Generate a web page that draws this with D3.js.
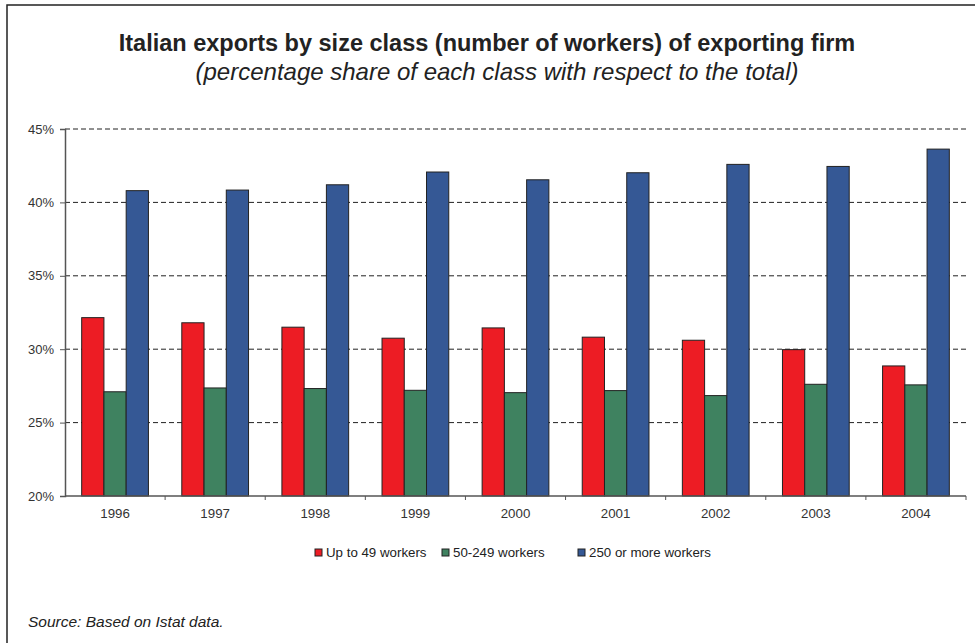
<!DOCTYPE html>
<html>
<head>
<meta charset="utf-8">
<script src="https://cdn.jsdelivr.net/npm/d3@7"></script>
<style>
  body { margin: 0; background: #fff; }
  text { font-family: "Liberation Sans", Arial, sans-serif; }
</style>
</head>
<body>
<div id="chart"></div>
<script>
"use strict";

var years = ["1996", "1997", "1998", "1999", "2000", "2001", "2002", "2003", "2004"];
var seriesNames = ["Up to 49 workers", "50-249 workers", "250 or more workers"];
var small = [32.15, 31.8, 31.5, 30.75, 31.45, 30.82, 30.61, 29.97, 28.86];
var medium = [27.1, 27.36, 27.32, 27.2, 27.04, 27.18, 26.84, 27.61, 27.57];
var large = [40.8, 40.84, 41.2, 42.07, 41.54, 42.02, 42.59, 42.45, 43.63];
var yTicks = [20, 25, 30, 35, 40, 45];
var colors = ["#ed1c24", "#3f8260", "#355895"];

var width = 975, height = 643;
var margin = { left: 65, right: 9, top: 129, bottom: 147 };

var svg = d3.select("#chart").append("svg")
    .attr("width", width)
    .attr("height", height);

// outer frame (runs off the right and bottom edges)
svg.append("rect")
    .attr("x", 7).attr("y", 5)
    .attr("width", 990).attr("height", 700)
    .attr("fill", "none")
    .attr("stroke", "#222")
    .attr("stroke-width", 1.5);

svg.append("text")
    .attr("x", 487).attr("y", 51)
    .attr("text-anchor", "middle")
    .attr("font-size", 23.5)
    .attr("font-weight", "bold")
    .attr("fill", "#222")
    .text("Italian exports by size class (number of workers) of exporting firm");

svg.append("text")
    .attr("x", 497).attr("y", 80)
    .attr("text-anchor", "middle")
    .attr("font-size", 24)
    .attr("font-style", "italic")
    .attr("fill", "#222")
    .text("(percentage share of each class with respect to the total)");

var x0 = d3.scaleBand()
    .domain(years)
    .range([margin.left, width - margin.right]);

var x1 = d3.scaleBand()
    .domain(d3.range(3))
    .range([0, x0.bandwidth()])
    .paddingInner(0)
    .paddingOuter(0.75);

var y = d3.scaleLinear()
    .domain([20, 45])
    .range([height - margin.bottom, margin.top]);

// dashed gridlines
svg.append("g")
    .selectAll("line")
    .data(yTicks.slice(1))
    .enter().append("line")
    .attr("x1", margin.left).attr("x2", width - margin.right)
    .attr("y1", function (d) { return y(d); })
    .attr("y2", function (d) { return y(d); })
    .attr("stroke", "#222")
    .attr("stroke-width", 1)
    .attr("stroke-dasharray", "5,3");

var rows = years.map(function (yr, i) {
    return { year: yr, values: [small[i], medium[i], large[i]] };
});

var groups = svg.append("g")
    .selectAll("g")
    .data(rows)
    .enter().append("g")
    .attr("transform", function (d) { return "translate(" + x0(d.year) + ",0)"; });

groups.selectAll("rect")
    .data(function (d) { return d.values; })
    .enter().append("rect")
    .attr("x", function (d, i) { return x1(i); })
    .attr("width", x1.bandwidth())
    .attr("y", function (d) { return y(d); })
    .attr("height", function (d) { return y(20) - y(d); })
    .attr("fill", function (d, i) { return colors[i]; })
    .attr("stroke", "#222")
    .attr("stroke-width", 1);

// y axis
var yAxis = svg.append("g")
    .attr("transform", "translate(" + margin.left + ",0)")
    .call(d3.axisLeft(y)
        .tickValues(yTicks)
        .tickSize(5)
        .tickPadding(6)
        .tickFormat(function (d) { return d + "%"; }));
yAxis.select(".domain").attr("stroke", "#555").attr("stroke-width", 1.5);
yAxis.selectAll(".tick line").attr("stroke", "#555");
yAxis.selectAll("text")
    .attr("font-size", 13)
    .attr("fill", "#333")
    .style("font-family", "'Liberation Sans', Arial, sans-serif");

// x axis with ticks at category boundaries
var xAxis = svg.append("g")
    .attr("transform", "translate(0," + y(20) + ")");
xAxis.append("line")
    .attr("x1", margin.left).attr("x2", width - margin.right)
    .attr("stroke", "#555").attr("stroke-width", 1.5);
xAxis.selectAll(".sep")
    .data(years)
    .enter().append("line")
    .attr("class", "sep")
    .attr("x1", function (d) { return x0(d) + x0.bandwidth(); })
    .attr("x2", function (d) { return x0(d) + x0.bandwidth(); })
    .attr("y1", 0).attr("y2", 4)
    .attr("stroke", "#555");
xAxis.selectAll(".lab")
    .data(years)
    .enter().append("text")
    .attr("class", "lab")
    .attr("x", function (d) { return x0(d) + x0.bandwidth() / 2; })
    .attr("y", 22)
    .attr("text-anchor", "middle")
    .attr("font-size", 13.3)
    .attr("fill", "#333")
    .text(function (d) { return d; });

// legend
var legendX = [315, 442, 578];
var legend = svg.append("g")
    .selectAll("g")
    .data(seriesNames)
    .enter().append("g")
    .attr("transform", function (d, i) { return "translate(" + legendX[i] + ",549)"; });
legend.append("rect")
    .attr("width", 7).attr("height", 7)
    .attr("fill", function (d, i) { return colors[i]; })
    .attr("stroke", "#222")
    .attr("stroke-width", 1);
legend.append("text")
    .attr("x", 11).attr("y", 8)
    .attr("font-size", 13.3)
    .attr("fill", "#222")
    .text(function (d) { return d; });

svg.append("text")
    .attr("x", 28).attr("y", 627)
    .attr("font-size", 15.5)
    .attr("font-style", "italic")
    .attr("fill", "#222")
    .text("Source: Based on Istat data.");
</script>
</body>
</html>
